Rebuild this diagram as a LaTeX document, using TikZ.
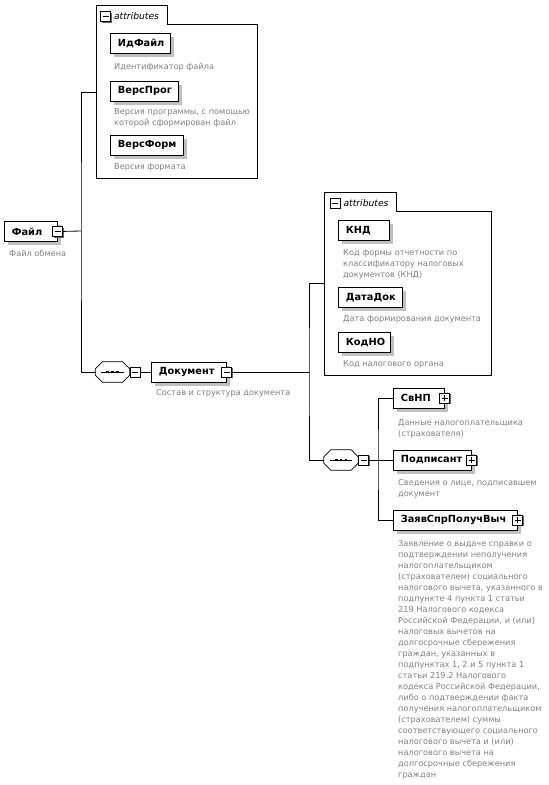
\documentclass[tikz,border=0pt]{standalone}
\usepackage{fontspec}
\setmainfont{DejaVu Sans}
\definecolor{desccol}{RGB}{128,128,128}
\definecolor{shadowcol}{RGB}{192,192,192}
\newcommand{\fstrut}{\rule{0pt}{8pt}}
\tikzset{
  elem/.style={draw, fill=white, line width=0.8, minimum height=20, inner xsep=7.5, inner ysep=0,
    align=left, anchor=north west, font=\fontsize{9.8}{11}\selectfont\bfseries,
    preaction={fill=shadowcol, draw=none, transform canvas={xshift=4pt, yshift=-4pt}}},
  desc/.style={anchor=north west, inner sep=0, align=left, text=desccol,
    font=\fontsize{8.2}{11}\selectfont},
  icon/.style={draw, fill=white, line width=0.8, minimum size=10, inner sep=0,
    preaction={fill=black!60, draw=none, transform canvas={xshift=1.2pt, yshift=-1.2pt}}},
  minusicon/.style={icon, path picture={\draw[line width=1]
    ([xshift=2]path picture bounding box.west) -- ([xshift=-2]path picture bounding box.east);}},
  plusicon/.style={icon, path picture={\draw[line width=1]
    ([xshift=2]path picture bounding box.west) -- ([xshift=-2]path picture bounding box.east)
    ([yshift=2]path picture bounding box.south) -- ([yshift=-2]path picture bounding box.north);}},
  seqnode/.style={rectangle, minimum width=34, minimum height=20, inner sep=0},
  attrbox/.style={draw, fill=white, line width=0.8},
  attrtxt/.style={anchor=west, inner sep=0, font=\fontsize{9.2}{11}\selectfont\itshape},
  conn/.style={line width=0.8}
}
\newcommand{\octpath}[1]{([xshift=7pt]#1.north west) -- ([xshift=-7pt]#1.north east)
  -- ([yshift=-7pt]#1.north east) -- ([yshift=7pt]#1.south east)
  -- ([xshift=-7pt]#1.south east) -- ([xshift=7pt]#1.south west)
  -- ([yshift=7pt]#1.south west) -- ([yshift=-7pt]#1.north west) -- cycle}
\newcommand{\drawseq}[1]{%
  \fill[shadowcol, xshift=4pt, yshift=-4pt] \octpath{#1};
  \draw[fill=white, line width=0.8] \octpath{#1};
  \draw[line width=1] ([xshift=6pt]#1.west) -- ([xshift=-6pt]#1.east);
  \fill ([xshift=-6.3pt,yshift=-1.4pt]#1.center) rectangle ([xshift=-3.5pt,yshift=1.4pt]#1.center);
  \fill ([xshift=-1.4pt,yshift=-1.4pt]#1.center) rectangle ([xshift=1.4pt,yshift=1.4pt]#1.center);
  \fill ([xshift=3.5pt,yshift=-1.4pt]#1.center) rectangle ([xshift=6.3pt,yshift=1.4pt]#1.center);
}
\begin{document}
\begin{tikzpicture}[x=1pt,y=-1pt]
\useasboundingbox (0,0) rectangle (549,785);

% ---- attributes box 1
\draw[attrbox] (96,5) -- (167,5) -- (167,24) -- (257,24) -- (257,178) -- (96,178) -- cycle;
\node[minusicon] (a1m) at (105.5,16.5) {};
\node[attrtxt] (a1t) at ([xshift=3]a1m.east) {attributes};
\coordinate (a1in) at (96,92);

\node[elem, text width=45] (idf) at (110,33) {ИдФайл};
\node[desc] (idfd) at (114,61) {\fstrut Идентификатор файла};
\node[elem, text width=53] (vprog) at (110,81) {ВерсПрог};
\node[desc] (vprogd) at (114,106) {\fstrut Версия программы, с помощью\\которой сформирован файл};
\node[elem, text width=58] (vform) at (110,135) {ВерсФорм};
\node[desc] (vformd) at (114,161) {\fstrut Версия формата};

% ---- root
\node[elem, text width=38] (file) at (4,221) {Файл};
\node[minusicon] (fileM) at (file.east) {};
\node[desc] (filed) at (9,248) {\fstrut Файл обмена};
\coordinate (j1) at (81,231);

% ---- sequence 1
\node[seqnode] (seq1) at (112.5,372) {};
\drawseq{seq1}
\node[minusicon] (seq1M) at (135,372) {};

% ---- Документ
\node[elem, text width=60, anchor=west] (doc) at (151,372) {Документ};
\node[minusicon] (docM) at (doc.east) {};
\node[desc] (docd) at (156,387) {\fstrut Состав и структура документа};
\coordinate (j2) at (309,372);

% ---- attributes box 2
\draw[attrbox] (324,192) -- (396,192) -- (396,211) -- (491,211) -- (491,375) -- (324,375) -- cycle;
\node[minusicon] (a2m) at (335,203) {};
\node[attrtxt] (a2t) at ([xshift=3]a2m.east) {attributes};
\coordinate (a2in) at (324,283);

\node[elem, text width=36] (knd) at (338,220) {КНД};
\node[desc] (kndd) at (343,247) {\fstrut Код формы отчетности по\\классификатору налоговых\\документов (КНД)};
\node[elem, text width=49] (datadok) at (338,287) {ДатаДок};
\node[desc] (datadokd) at (343,313) {\fstrut Дата формирования документа};
\node[elem, text width=37] (kodno) at (338,332) {КодНО};
\node[desc] (kodnod) at (343,358) {\fstrut Код налогового органа};

% ---- sequence 2
\node[seqnode] (seq2) at (341,460) {};
\drawseq{seq2}
\node[minusicon] (seq2M) at (363.5,460) {};
\coordinate (j3) at (378,460);

\node[elem, text width=36, anchor=west] (svnp) at (393,398) {СвНП};
\node[plusicon] (svnpP) at (svnp.east) {};
\node[desc] (svnpd) at (398,417) {\fstrut Данные налогоплательщика\\(страхователя)};

\node[elem, text width=63, anchor=west] (podp) at (393,460) {Подписант};
\node[plusicon] (podpP) at (podp.east) {};
\node[desc] (podpd) at (398,477) {\fstrut Сведения о лице, подписавшем\\документ};

\node[elem, text width=109, anchor=west] (zayav) at (393,520) {ЗаявСпрПолучВыч};
\node[plusicon] (zayavP) at (zayav.east) {};
\node[desc] (zayavd) at (398,538) {\fstrut Заявление о выдаче справки о\\подтверждении неполучения\\налогоплательщиком\\(страхователем) социального\\налогового вычета, указанного в\\подпункте 4 пункта 1 статьи\\219 Налогового кодекса\\Российской Федерации, и (или)\\налоговых вычетов на\\долгосрочные сбережения\\граждан, указанных в\\подпунктах 1, 2 и 5 пункта 1\\статьи 219.2 Налогового\\кодекса Российской Федерации,\\либо о подтверждении факта\\получения налогоплательщиком\\(страхователем) суммы\\соответствующего социального\\налогового вычета и (или)\\налогового вычета на\\долгосрочные сбережения\\граждан};

% ---- connectors
\draw[conn] (fileM.east) -- (j1);
\draw[conn] (a1in) -| (j1) |- (seq1.west);
\draw[conn] (seq1M.east) -- (doc.west);
\draw[conn] (docM.east) -- (j2);
\draw[conn] (a2in) -| (j2) |- (seq2.west);
\draw[conn] (seq2M.east) -- (j3);
\draw[conn] (svnp.west) -| (j3) |- (zayav.west);
\draw[conn] (j3) -- (podp.west);
\end{tikzpicture}
\end{document}
